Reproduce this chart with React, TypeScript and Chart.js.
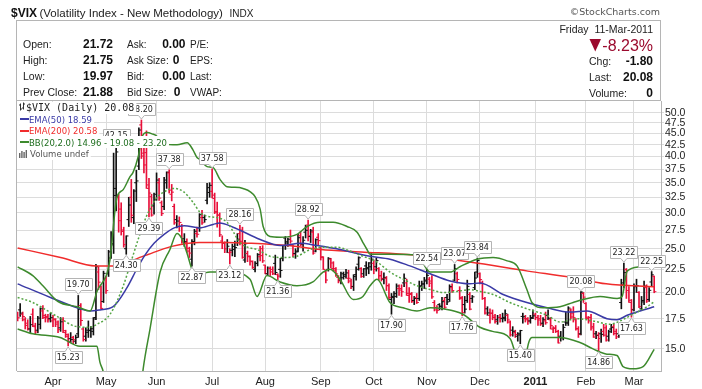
import React, { useEffect, useRef } from 'react';
import { Chart, registerables } from 'chart.js';

Chart.register(...registerables);

// ---------------- data (daily OHLC, 12-Mar-2010 .. 11-Mar-2011) ----------------
const opens = [
  17.9, 18.3, 17.9, 17.4, 17.1, 16.6, 17.9, 16.8, 16.5, 17.0,
  18.2, 17.6, 17.7, 17.5, 17.3, 17.4, 17.2, 16.7, 17.4, 16.3,
  16.0, 15.8, 15.9, 15.6, 16.2, 18.7, 16.6, 16.0, 16.5, 16.5,
  16.4, 17.6, 22.2, 20.6, 19.1, 21.5, 22.0, 24.6, 25.5, 34.0,
  32.5, 30.6, 27.5, 25.0, 29.0, 32.5, 29.3, 35.0, 38.1, 47.0,
  40.7, 40.8, 34.0, 32.6, 31.1, 33.0, 35.0, 31.6, 31.0, 35.0,
  36.8, 33.0, 31.0, 29.0, 28.0, 28.0, 26.3, 25.8, 24.7, 23.7,
  25.9, 27.0, 27.8, 29.3, 29.3, 32.0, 33.3, 33.5, 32.3, 30.2,
  29.7, 26.0, 25.7, 25.8, 24.5, 24.8, 25.3, 25.8, 27.0, 27.5,
  23.6, 24.4, 24.0, 23.4, 22.5, 23.2, 24.0, 25.0, 23.0, 22.0,
  22.6, 22.5, 23.2, 21.9, 22.5, 23.8, 26.4, 25.9, 26.6, 25.5,
  24.4, 24.7, 26.7, 25.6, 27.2, 28.2, 26.6, 27.2, 24.7, 26.5,
  25.1, 24.0, 22.2, 22.5, 23.7, 22.6, 22.4, 21.6, 21.3, 22.0,
  21.9, 21.5, 21.2, 20.6, 21.9, 23.1, 22.6, 22.0, 22.9, 22.7,
  22.8, 23.2, 22.8, 22.6, 21.8, 21.4, 21.5, 20.7, 19.3, 19.5,
  19.6, 20.4, 20.4, 21.0, 21.0, 19.7, 19.9, 19.2, 19.5, 19.4,
  20.6, 20.9, 21.3, 21.4, 21.2, 19.0, 18.3, 18.8, 18.6, 19.2,
  19.5, 19.3, 20.5, 21.3, 22.0, 20.2, 19.5, 18.8, 19.2, 19.8,
  19.4, 20.5, 22.2, 22.0, 21.0, 19.4, 18.4, 17.8, 18.0, 17.6,
  17.4, 17.6, 17.5, 17.5, 17.8, 17.2, 16.5, 16.3, 16.0, 16.1,
  17.7, 17.5, 17.4, 17.3, 17.6, 17.9, 17.6, 17.5, 17.1, 17.3,
  17.8, 17.4, 16.6, 16.7, 16.4, 16.0, 15.9, 17.2, 17.1, 18.3,
  18.0, 17.4, 16.6, 16.2, 19.9, 18.9, 17.5, 17.6, 16.8, 16.2,
  16.1, 16.2, 16.4, 16.7, 16.0, 16.6, 16.8, 16.4, 16.2, 19.0,
  21.0, 22.5, 20.2, 19.0, 18.3, 20.6, 20.0, 18.4, 19.2, 20.5,
  19.3, 21.1, 21.72,
];
const highs = [
  18.1, 18.9, 18.1, 17.6, 17.4, 17.7, 18.4, 17.1, 17.7, 18.5,
  18.7, 17.9, 17.9, 18.0, 17.8, 17.5, 17.3, 17.6, 17.6, 16.5,
  16.2, 16.3, 16.0, 16.1, 19.70, 18.9, 16.7, 16.7, 17.3, 16.8,
  17.6, 23.1, 22.8, 20.7, 22.3, 21.7, 24.8, 27.3, 40.71, 42.15,
  33.0, 31.6, 27.9, 26.7, 32.5, 35.6, 33.8, 37.3, 46.3, 48.20,
  42.0, 45.6, 35.8, 33.0, 33.2, 36.8, 35.8, 31.9, 36.0, 37.0,
  37.38, 34.7, 31.4, 29.6, 29.4, 28.3, 27.0, 26.3, 25.2, 26.2,
  27.6, 27.9, 29.9, 30.4, 29.7, 34.9, 35.0, 37.58, 33.2, 31.7,
  30.0, 26.7, 25.9, 26.2, 25.0, 25.6, 26.0, 27.0, 28.16, 27.9,
  26.1, 24.7, 24.1, 23.5, 23.4, 24.4, 25.3, 25.4, 23.0, 22.8,
  22.8, 22.8, 24.2, 22.0, 23.8, 25.4, 26.6, 26.4, 27.5, 25.5,
  25.0, 26.9, 27.3, 26.6, 28.2, 28.92, 27.6, 27.9, 26.3, 27.0,
  25.2, 24.0, 22.3, 23.9, 23.8, 23.4, 22.7, 21.8, 22.2, 22.2,
  22.5, 22.4, 21.4, 21.9, 22.8, 24.0, 22.7, 22.6, 23.4, 23.3,
  24.4, 23.6, 23.8, 22.7, 22.3, 22.1, 21.7, 20.9, 19.9, 20.1,
  20.9, 20.8, 20.8, 22.0, 21.4, 20.5, 20.0, 19.6, 19.9, 21.2,
  21.2, 21.6, 22.54, 21.6, 21.8, 19.2, 18.7, 18.9, 19.5, 19.5,
  19.8, 20.8, 20.9, 23.07, 22.2, 20.6, 19.6, 19.6, 21.3, 20.0,
  19.7, 22.2, 23.84, 22.1, 21.2, 19.5, 18.6, 18.4, 18.3, 17.9,
  17.8, 17.9, 18.0, 18.3, 17.9, 17.3, 16.8, 16.5, 16.3, 16.5,
  18.0, 17.8, 17.6, 17.8, 18.3, 18.0, 17.8, 17.8, 17.6, 18.1,
  18.3, 17.6, 16.8, 16.9, 16.5, 16.4, 17.0, 18.1, 18.6, 18.4,
  18.6, 17.5, 16.8, 20.08, 20.0, 19.0, 17.7, 17.9, 17.1, 16.4,
  16.3, 16.6, 17.0, 16.9, 16.5, 17.0, 17.0, 16.6, 16.7, 21.4,
  23.22, 22.6, 20.6, 19.3, 20.9, 21.4, 20.1, 19.6, 21.2, 20.8,
  20.5, 22.25, 21.75,
];
const lows = [
  17.3, 17.7, 17.3, 16.6, 16.5, 16.3, 16.8, 16.2, 16.3, 16.6,
  17.5, 17.2, 17.2, 17.2, 16.8, 16.8, 16.3, 16.4, 16.3, 15.9,
  15.23, 15.5, 15.4, 15.4, 15.9, 16.9, 15.6, 15.6, 15.9, 15.9,
  16.1, 17.4, 20.3, 18.4, 19.0, 19.9, 21.7, 23.8, 24.4, 30.3,
  27.2, 26.8, 25.2, 24.30, 28.0, 28.6, 28.4, 31.8, 37.4, 39.6,
  36.8, 34.0, 29.39, 29.5, 29.8, 32.0, 32.0, 29.6, 30.5, 34.0,
  33.2, 31.9, 28.3, 27.8, 27.3, 25.7, 25.3, 24.5, 23.9, 22.87,
  25.5, 26.5, 27.3, 28.3, 28.6, 31.4, 32.5, 32.4, 29.9, 27.9,
  26.6, 25.0, 24.5, 24.5, 23.12, 24.1, 24.0, 25.4, 25.5, 23.8,
  23.3, 23.4, 23.0, 22.6, 22.2, 22.9, 23.5, 23.3, 22.0, 21.9,
  21.8, 21.9, 21.9, 21.36, 21.6, 23.5, 24.9, 25.3, 25.7, 24.0,
  23.8, 24.6, 25.4, 24.7, 26.4, 26.0, 25.8, 24.3, 24.6, 25.5,
  23.6, 22.5, 21.0, 22.3, 22.7, 22.3, 21.7, 21.0, 20.9, 21.4,
  21.5, 21.0, 20.4, 20.2, 21.3, 22.4, 21.6, 21.6, 21.8, 22.0,
  22.4, 22.0, 22.3, 21.3, 21.2, 20.9, 20.2, 19.3, 17.90, 18.9,
  19.5, 19.7, 19.6, 20.6, 19.7, 19.0, 19.0, 18.8, 18.9, 19.2,
  20.2, 20.4, 20.9, 20.6, 19.4, 18.2, 18.0, 18.3, 18.3, 18.4,
  18.8, 19.1, 20.0, 21.2, 21.0, 19.3, 17.76, 18.0, 19.0, 18.3,
  19.0, 20.3, 21.6, 20.9, 19.3, 17.9, 17.8, 17.1, 17.4, 17.1,
  17.0, 17.2, 17.2, 17.3, 17.1, 16.0, 16.0, 15.9, 15.6, 15.40,
  17.1, 17.2, 17.0, 17.1, 17.5, 17.4, 16.9, 16.9, 16.8, 17.0,
  17.4, 16.6, 16.3, 16.3, 15.45, 15.6, 15.7, 16.9, 16.9, 17.5,
  17.2, 16.5, 15.9, 16.1, 19.0, 17.5, 17.1, 16.5, 15.9, 15.8,
  14.86, 15.5, 16.0, 15.6, 15.6, 16.3, 16.1, 15.8, 15.9, 18.4,
  20.5, 19.4, 19.0, 17.63, 18.2, 20.0, 18.5, 18.3, 18.8, 19.0,
  19.1, 20.7, 19.97,
];
const closes = [
  17.58, 18.00, 17.69, 16.91, 16.62, 16.97, 16.87, 16.35, 17.55, 18.40,
  17.77, 17.59, 17.40, 17.59, 17.47, 17.02, 16.55, 17.22, 16.46, 16.14,
  15.58, 15.74, 15.72, 15.89, 18.36, 17.34, 15.73, 16.32, 16.47, 16.62,
  17.47, 22.81, 21.08, 18.44, 22.05, 20.19, 23.84, 25.66, 32.80, 40.95,
  28.84, 27.30, 25.52, 26.68, 31.24, 29.65, 33.55, 35.32, 45.79, 40.10,
  38.32, 34.61, 33.20, 29.68, 32.07, 35.48, 32.36, 29.90, 35.48, 36.93,
  33.70, 33.36, 28.53, 28.79, 28.58, 25.87, 25.92, 25.05, 24.45, 25.92,
  27.33, 26.91, 29.74, 28.53, 29.00, 34.13, 34.54, 32.86, 30.12, 29.65,
  26.84, 25.71, 24.98, 25.32, 24.56, 24.89, 25.14, 26.25, 25.97, 23.93,
  25.64, 24.08, 23.47, 22.73, 23.19, 24.25, 24.13, 23.50, 22.01, 22.63,
  22.21, 22.01, 22.14, 21.74, 22.37, 25.39, 25.73, 26.24, 25.99, 24.33,
  24.59, 26.44, 25.49, 26.10, 27.46, 26.70, 27.37, 24.45, 26.17, 26.05,
  23.89, 22.50, 21.31, 23.80, 23.25, 22.59, 21.99, 21.21, 21.56, 21.72,
  22.10, 21.50, 20.63, 21.69, 22.51, 23.87, 21.71, 22.57, 22.58, 23.25,
  23.70, 22.50, 23.53, 21.76, 21.49, 21.56, 20.71, 19.50, 19.60, 19.88,
  20.67, 20.25, 20.08, 21.50, 19.91, 19.80, 19.08, 19.40, 19.00, 20.70,
  20.88, 21.20, 21.83, 20.97, 19.56, 18.52, 18.26, 18.66, 19.08, 18.55,
  19.06, 20.61, 20.20, 22.58, 21.37, 19.40, 18.04, 18.37, 20.63, 18.37,
  19.56, 21.53, 23.54, 21.36, 19.39, 18.01, 18.02, 17.99, 17.74, 17.25,
  17.61, 17.55, 17.61, 17.94, 17.39, 16.11, 16.41, 16.14, 16.20, 16.47,
  17.67, 17.52, 17.28, 17.52, 17.75, 17.61, 17.38, 17.02, 17.40, 17.14,
  17.54, 16.89, 16.64, 16.39, 15.46, 15.87, 16.74, 17.19, 18.47, 17.65,
  17.59, 16.64, 16.15, 20.04, 19.53, 17.63, 17.30, 16.69, 15.93, 16.06,
  15.81, 16.15, 16.09, 15.69, 16.37, 16.72, 16.23, 15.95, 16.43, 20.80,
  22.13, 20.72, 19.22, 18.35, 20.70, 20.70, 18.60, 19.06, 20.66, 19.14,
  20.22, 21.88, 20.08,
];

// indicator lines: [trading-day index, value]
const ema200Pts: [number, number][] = [
  [0, 25.1], [17, 23.9], [31, 22.9], [38, 22.9], [50, 24.1], [61, 25.3], [72, 25.8],
  [83, 25.8], [92, 25.7], [107, 25.4], [120, 24.9], [136, 24.6], [157, 24.2],
  [179, 23.35], [202, 22.3], [219, 21.6], [233, 20.9], [252, 20.58],
];
const ema50Pts: [number, number][] = [
  [0, 20.9], [13, 19.5], [23.5, 18.5], [28.7, 18.2], [32.6, 18.3], [37.8, 18.6],
  [43.3, 20.5], [47.3, 22.6], [50.4, 24.2], [54, 25.7], [58, 26.9], [62, 27.8],
  [66, 28.1], [72, 27.8], [77.4, 28.3], [80, 28.5], [85.3, 27.9], [96, 26.2],
  [104, 25.4], [112, 25.7], [118.5, 25.4], [127.6, 24.9], [139.5, 24.06],
  [147.4, 23.7], [155.3, 22.9], [163.3, 22.0], [171.2, 21.2], [179.1, 20.9],
  [183.1, 21.0], [192.2, 19.8], [201.6, 19.0], [209.6, 18.5], [218.7, 18.1],
  [225.4, 18.2], [233.3, 17.5], [237.3, 17.4], [241.3, 17.8], [246.4, 18.2], [252, 18.59],
];
const bbUpperPts: [number, number][] = [
  [0, 22.8], [6, 21.8], [10, 20.7], [16, 19.1], [23.5, 18.6], [28.7, 18.2], [31.4, 20.1],
  [36.6, 23.7], [38.6, 30.6], [39.4, 32.6], [41.8, 33.8], [44.5, 36.1], [45.7, 36.9],
  [47.7, 39.9], [49.3, 44.3], [51.2, 45.2], [53.2, 44.9], [55.2, 44.3], [56.4, 42.9],
  [61.5, 42.5], [63.1, 42.5], [67.1, 42.9], [69.4, 41.4], [71, 39.8], [72.2, 39.4],
  [75, 38.0], [77.4, 37.8], [80.1, 35.6], [82.9, 34.3], [85.3, 34.2], [89.2, 34.0],
  [94, 32.6], [96, 30.6], [97.2, 28.0], [99.9, 26.6], [103.9, 26.5], [110.6, 26.9],
  [114.6, 28.0], [119.7, 28.6], [124.9, 28.6], [130.4, 28.0], [134.4, 27.2],
  [136.7, 25.8], [138.3, 24.9], [139.5, 24.3], [147.4, 24.3], [158.1, 24.2],
  [163.3, 22.2], [171.2, 22.2], [175.1, 22.8], [181.9, 23.7], [188.2, 23.9],
  [193.8, 23.5], [197.7, 22.9], [201.6, 20.3], [203.6, 19.0], [208, 18.5],
  [214.7, 18.6], [219.9, 19.0], [223.8, 19.3], [230.6, 19.6], [237.3, 19.4],
  [239.3, 19.6], [241.3, 22.3], [246.4, 22.8], [252, 23.2],
];
const bbMidPts: [number, number][] = [
  [0, 19.5], [6, 19.0], [15.6, 17.7], [23.5, 16.8], [28.7, 16.75], [31.4, 17.0],
  [36.6, 17.9], [41.7, 20.6], [45, 23.5], [48, 26.5], [51, 29.5], [53.2, 31.2],
  [55.2, 32.5], [57.6, 33.3], [61.5, 34.0], [65.5, 33.5], [69.4, 31.7], [72.2, 30.1],
  [75, 29.5], [78.9, 29.3], [82.9, 28.6], [85.3, 27.3], [88, 25.8], [91, 25.2],
  [94.8, 24.9], [99.9, 24.06], [105.1, 23.9], [110.6, 24.06], [115.8, 24.9],
  [120.9, 25.2], [126.4, 25.2], [131.6, 24.7], [136.7, 24.06], [142.3, 23.35],
  [147.4, 22.2], [152.6, 21.4], [158.1, 20.7], [163.3, 20.3], [168.5, 20.0],
  [173.9, 20.1], [179.1, 20.3], [183.1, 20.1], [188.2, 19.8], [194.9, 19.0],
  [201.6, 18.4], [209.6, 17.8], [214.7, 17.2], [221.4, 17.5], [227.8, 17.3],
  [234.5, 17.0], [238.5, 17.3], [243.6, 17.9], [249.2, 18.6], [252, 19.08],
];
const bbLowerPts: [number, number][] = [
  [0, 16.6], [6, 16.2], [16.8, 15.9], [24.7, 15.2], [31.4, 15.2], [32.6, 14.0],
  [33.8, 13.4], [36, 11.5], [40, 9], [46, 9], [49, 12.5], [49.7, 13.55], [52.4, 16.6],
  [56.4, 22.2], [60.3, 24.9], [63.1, 27.0], [65, 26.3], [67, 24.5], [69.4, 22.3],
  [72, 22.0], [76.2, 22.2], [84.1, 22.2], [92, 21.4], [94.8, 19.6], [98.7, 21.8],
  [103.9, 21.1], [110.6, 20.7], [116.9, 21.1], [120.9, 22.2], [123.7, 22.5],
  [127.6, 21.4], [132.8, 19.3], [136.7, 19.6], [139.5, 20.7], [142.3, 21.4],
  [147.4, 19.0], [152.6, 18.5], [158.1, 18.2], [163.3, 18.5], [168.5, 18.4],
  [176.3, 17.9], [183, 16.75], [188, 16.4], [195, 15.8], [197.7, 14.4], [200.5, 14.2],
  [202.5, 15.6], [203.6, 15.9], [214.7, 15.9], [222.6, 15.5], [227.8, 15.0],
  [233.3, 14.6], [237.3, 14.5], [239.7, 13.7], [243.6, 13.55], [247.6, 13.7], [252, 14.96],
];

// swing-point annotations
const pivotIdx = [20, 24, 39, 43, 49, 52, 60, 69, 77, 84, 88, 103, 115, 148, 162, 173, 176, 182, 199, 223, 230, 240, 243, 251];
const pivotVal = [15.23, 19.70, 42.15, 24.30, 48.20, 29.39, 37.38, 22.87, 37.58, 23.12, 28.16, 21.36, 28.92, 17.90, 22.54, 23.07, 17.76, 23.84, 15.40, 20.08, 14.86, 23.22, 17.63, 22.25];
const pivotAbove = [false, true, true, false, true, false, true, false, true, false, true, false, true, false, true, true, false, true, false, true, false, true, false, true];

// axes
const monthTickIdx = [14, 35, 55, 77, 98, 120, 141, 162, 183, 205, 225, 244];
const monthTickLabels = ['Apr', 'May', 'Jun', 'Jul', 'Aug', 'Sep', 'Oct', 'Nov', 'Dec', '2011', 'Feb', 'Mar'];
const priceTicks = [15, 17.5, 20, 22.5, 25, 27.5, 30, 32.5, 35, 37.5, 40, 42.5, 45, 47.5, 50];

// ---------------- styles ----------------
const SANS = '"Liberation Sans", Arial, sans-serif';
const VERD = '"DejaVu Sans", Verdana, sans-serif';
const MONO = '"DejaVu Sans Mono", monospace';
const UP_C = '#111111';
const DOWN_C = '#e8103a';
const EMA50_C = '#3a3aa6';
const EMA200_C = '#f02c2c';
const BB_C = '#3d8a2d';
const BB_MID_C = '#55a545';
const GRID_C = '#dcdcdc';

function txt(ctx: CanvasRenderingContext2D, s: string, x: number, y: number, font: string, color: string, align: CanvasTextAlign = 'left') {
  ctx.font = font;
  ctx.fillStyle = color;
  ctx.textAlign = align;
  ctx.textBaseline = 'alphabetic';
  ctx.fillText(s, x, y);
}

function drawPivots(chart: any) {
  const { ctx } = chart;
  const xs = chart.scales.x;
  const ys = chart.scales.y;
  ctx.save();
  ctx.font = '8px ' + VERD;
  pivotIdx.forEach((idx, k) => {
    const v = pivotVal[k];
    const up = pivotAbove[k];
    const px = xs.getPixelForValue(idx);
    const py = ys.getPixelForValue(v);
    const t = v.toFixed(2);
    const w = Math.round(ctx.measureText(t).width) + 4;
    const h = 12;
    const left = Math.round(px - w / 2) + 0.5;
    const top = up ? Math.round(py - 5 - h) + 0.5 : Math.round(py + 5) + 0.5;
    ctx.beginPath();
    if (up) {
      const b = top + h;
      ctx.moveTo(left, top); ctx.lineTo(left + w, top); ctx.lineTo(left + w, b);
      ctx.lineTo(px + 3, b); ctx.lineTo(px, py - 1); ctx.lineTo(px - 3, b); ctx.lineTo(left, b);
    } else {
      const b = top + h;
      ctx.moveTo(left, b); ctx.lineTo(left + w, b); ctx.lineTo(left + w, top);
      ctx.lineTo(px + 3, top); ctx.lineTo(px, py + 1); ctx.lineTo(px - 3, top); ctx.lineTo(left, top);
    }
    ctx.closePath();
    ctx.fillStyle = '#ffffff';
    ctx.fill();
    ctx.strokeStyle = '#b4b4b4';
    ctx.lineWidth = 1;
    ctx.stroke();
    ctx.fillStyle = '#222';
    ctx.textAlign = 'center';
    ctx.textBaseline = 'middle';
    ctx.fillText(t, px, top + h / 2 + 0.5);
  });
  ctx.restore();
}

function drawHeader(chart: any) {
  const { ctx, chartArea } = chart;
  ctx.save();
  // title
  txt(ctx, '$VIX', 11, 17, 'bold 12px ' + SANS, '#111');
  txt(ctx, '(Volatility Index - New Methodology)', 39.5, 17, '11.5px ' + SANS, '#222');
  txt(ctx, 'INDX', 229.5, 17, '10px ' + SANS, '#222');
  txt(ctx, '\u00A9StockCharts.com', 660, 15, '9.5px ' + VERD, '#555', 'right');
  // info box
  ctx.strokeStyle = '#b5b5b5';
  ctx.lineWidth = 1;
  ctx.strokeRect(16.5, 20.5, 644, 80);
  const rows = [48.3, 64.3, 80.3, 96.3];
  const lab = '10px ' + SANS;
  const val = 'bold 12px ' + SANS;
  ['Open:', 'High:', 'Low:', 'Prev Close:'].forEach((s, i) => txt(ctx, s, 23, rows[i], '10.5px ' + SANS, '#222'));
  ['21.72', '21.75', '19.97', '21.88'].forEach((s, i) => txt(ctx, s, 113, rows[i], val, '#111', 'right'));
  ['Ask:', 'Ask Size:', 'Bid:', 'Bid Size:'].forEach((s, i) => txt(ctx, s, 127, rows[i], lab, '#222'));
  txt(ctx, '0.00', 185.5, rows[0], val, '#111', 'right');
  txt(ctx, '0', 179.5, rows[1], val, '#111', 'right');
  txt(ctx, '0.00', 185.5, rows[2], val, '#111', 'right');
  txt(ctx, '0', 180.5, rows[3], val, '#111', 'right');
  ['P/E:', 'EPS:', 'Last:', 'VWAP:'].forEach((s, i) => txt(ctx, s, 190, rows[i], lab, '#222'));
  // right block
  txt(ctx, 'Friday  11-Mar-2011', 653, 33, '10.5px ' + SANS, '#222', 'right');
  txt(ctx, '-8.23%', 653, 50.5, '16px ' + SANS, '#9b0a2e', 'right');
  ctx.beginPath();
  ctx.moveTo(589.5, 39); ctx.lineTo(601, 39); ctx.lineTo(595.25, 51.5); ctx.closePath();
  ctx.fillStyle = '#9b0a2e';
  ctx.fill();
  txt(ctx, 'Chg:', 589, 65.3, '10.5px ' + SANS, '#222');
  txt(ctx, '-1.80', 653, 65.3, val, '#111', 'right');
  txt(ctx, 'Last:', 589, 81.3, '10.5px ' + SANS, '#222');
  txt(ctx, '20.08', 653, 81.3, val, '#111', 'right');
  txt(ctx, 'Volume:', 589, 97, '10.5px ' + SANS, '#222');
  txt(ctx, '0', 653, 97, val, '#111', 'right');
  // plot border (left/top)
  ctx.beginPath();
  ctx.moveTo(chartArea.left - 0.5, chartArea.bottom);
  ctx.lineTo(chartArea.left - 0.5, chartArea.top - 0.5);
  ctx.lineTo(chartArea.right, chartArea.top - 0.5);
  ctx.strokeStyle = '#b5b5b5';
  ctx.stroke();
  ctx.restore();
}

function drawLegend(chart: any) {
  const { ctx } = chart;
  ctx.save();
  const rows = [
    { text: '$VIX (Daily) 20.08', color: '#222', font: '10px ' + MONO, x: 26, icon: 'ohlc' },
    { text: 'EMA(50) 18.59', color: EMA50_C, font: '8.5px ' + VERD, x: 29, icon: 'dash', ic: EMA50_C },
    { text: 'EMA(200) 20.58', color: EMA200_C, font: '8.5px ' + VERD, x: 29, icon: 'dash', ic: EMA200_C },
    { text: 'BB(20,2.0) 14.96 - 19.08 - 23.20', color: '#1f6e1f', font: '8.5px ' + VERD, x: 29, icon: 'dash', ic: BB_C },
    { text: 'Volume undef', color: '#555', font: '8.5px ' + VERD, x: 30, icon: 'vol' },
  ];
  rows.forEach((r, i) => {
    const cy = 107.5 + i * 11.6;
    ctx.font = r.font;
    const w = ctx.measureText(r.text).width;
    ctx.fillStyle = '#ffffff';
    ctx.fillRect(17, Math.round(cy - 6), r.x + w + 2 - 17, 12);
    if (r.icon === 'dash') {
      ctx.fillStyle = r.ic as string;
      ctx.fillRect(20, Math.round(cy) - 1, 9, 2);
    } else if (r.icon === 'ohlc') {
      ctx.strokeStyle = '#333';
      ctx.lineWidth = 1;
      ctx.beginPath();
      ctx.moveTo(20.5, cy - 4); ctx.lineTo(20.5, cy + 3);
      ctx.moveTo(19, cy - 2.5); ctx.lineTo(20.5, cy - 2.5);
      ctx.moveTo(20.5, cy + 1.5); ctx.lineTo(22, cy + 1.5);
      ctx.moveTo(23.5, cy - 5); ctx.lineTo(23.5, cy + 2);
      ctx.moveTo(22, cy + 0.5); ctx.lineTo(23.5, cy + 0.5);
      ctx.moveTo(23.5, cy - 3.5); ctx.lineTo(25, cy - 3.5);
      ctx.stroke();
    } else if (r.icon === 'vol') {
      ctx.fillStyle = '#666';
      const hs = [5, 7, 6, 8];
      hs.forEach((hh, j) => ctx.fillRect(19 + j * 2.2, Math.round(cy + 4 - hh), 1.4, hh));
    }
    txt(ctx, r.text, r.x, cy + 3.5, r.font, r.color);
  });
  ctx.restore();
}

const overlayPlugin = {
  id: 'overlay',
  afterDatasetsDraw(chart: any) {
    drawPivots(chart);
  },
  afterDraw(chart: any) {
    drawHeader(chart);
    drawLegend(chart);
  },
};

export default function App() {
  const ref = useRef<HTMLCanvasElement | null>(null);

  useEffect(() => {
    if (!ref.current) return;
    const barColors = closes.map((c, i) => (c >= (i > 0 ? closes[i - 1] : opens[i]) ? UP_C : DOWN_C));
    const pts = (a: [number, number][]) => a.map(([x, y]) => ({ x, y }));
    const lineDs = (data: [number, number][], color: string, extra: any = {}) => ({
      type: 'line',
      data: pts(data),
      borderColor: color,
      borderWidth: 1.5,
      pointRadius: 0,
      pointHitRadius: 0,
      cubicInterpolationMode: 'monotone',
      fill: false,
      order: 1,
      ...extra,
    });

    const chart = new Chart(ref.current, {
      type: 'bar',
      data: {
        datasets: [
          lineDs(bbUpperPts, BB_C),
          lineDs(bbLowerPts, BB_C),
          lineDs(bbMidPts, BB_MID_C, { borderDash: [2, 2] }),
          lineDs(ema50Pts, EMA50_C),
          lineDs(ema200Pts, EMA200_C),
          {
            type: 'bar',
            data: highs.map((h, i) => ({ x: i, y: [lows[i], h] })),
            backgroundColor: barColors,
            borderWidth: 0,
            barThickness: 1,
            grouped: false,
            order: 5,
          },
          {
            type: 'line',
            data: opens.map((o, i) => ({ x: i - 0.44, y: o })),
            showLine: false,
            pointStyle: 'line',
            pointRadius: 1.1,
            pointBorderWidth: 1,
            pointBorderColor: barColors,
            pointBackgroundColor: barColors,
            order: 4,
          },
          {
            type: 'line',
            data: closes.map((c, i) => ({ x: i + 0.44, y: c })),
            showLine: false,
            pointStyle: 'line',
            pointRadius: 1.1,
            pointBorderWidth: 1,
            pointBorderColor: barColors,
            pointBackgroundColor: barColors,
            order: 4,
          },
        ] as any,
      },
      options: {
        responsive: false,
        maintainAspectRatio: false,
        devicePixelRatio: 1,
        animation: false,
        events: [],
        layout: { padding: { top: 101, left: 17, right: 0, bottom: 0 } },
        plugins: { legend: { display: false }, tooltip: { enabled: false }, title: { display: false } },
        scales: {
          x: {
            type: 'linear',
            min: -0.25,
            max: 254.7,
            offset: false,
            grid: { color: GRID_C, offset: false, drawTicks: false },
            border: { color: '#b5b5b5' },
            ticks: {
              autoSkip: false,
              maxRotation: 0,
              padding: 4,
              color: '#222',
              font: (c: any) => ({ family: SANS, size: 11, weight: c.index === 9 ? 'bold' : 'normal' }),
              callback: (_v: any, i: number) => monthTickLabels[i],
            },
            afterBuildTicks: (s: any) => {
              s.ticks = monthTickIdx.map((v) => ({ value: v }));
            },
            afterFit: (s: any) => {
              s.height = 18;
            },
          },
          y: {
            type: 'logarithmic',
            position: 'right',
            min: 13.4,
            max: 53.1,
            beginAtZero: false,
            grid: { color: GRID_C, drawTicks: true, tickLength: 3 },
            border: { color: '#b5b5b5' },
            ticks: {
              autoSkip: false,
              padding: 1,
              color: '#222',
              font: { family: SANS, size: 10.5 },
              callback: (v: any) => Number(v).toFixed(1),
            },
            afterBuildTicks: (s: any) => {
              s.ticks = priceTicks.map((v) => ({ value: v }));
            },
            afterFit: (s: any) => {
              s.width = 41;
            },
          },
        },
      } as any,
      plugins: [overlayPlugin],
    });
    return () => chart.destroy();
  }, []);

  return (
    <div style={{ position: 'fixed', left: 0, top: 0, width: 702, height: 389, background: '#fff' }}>
      <canvas ref={ref} width={702} height={389} style={{ display: 'block', width: 702, height: 389 }} />
    </div>
  );
}
